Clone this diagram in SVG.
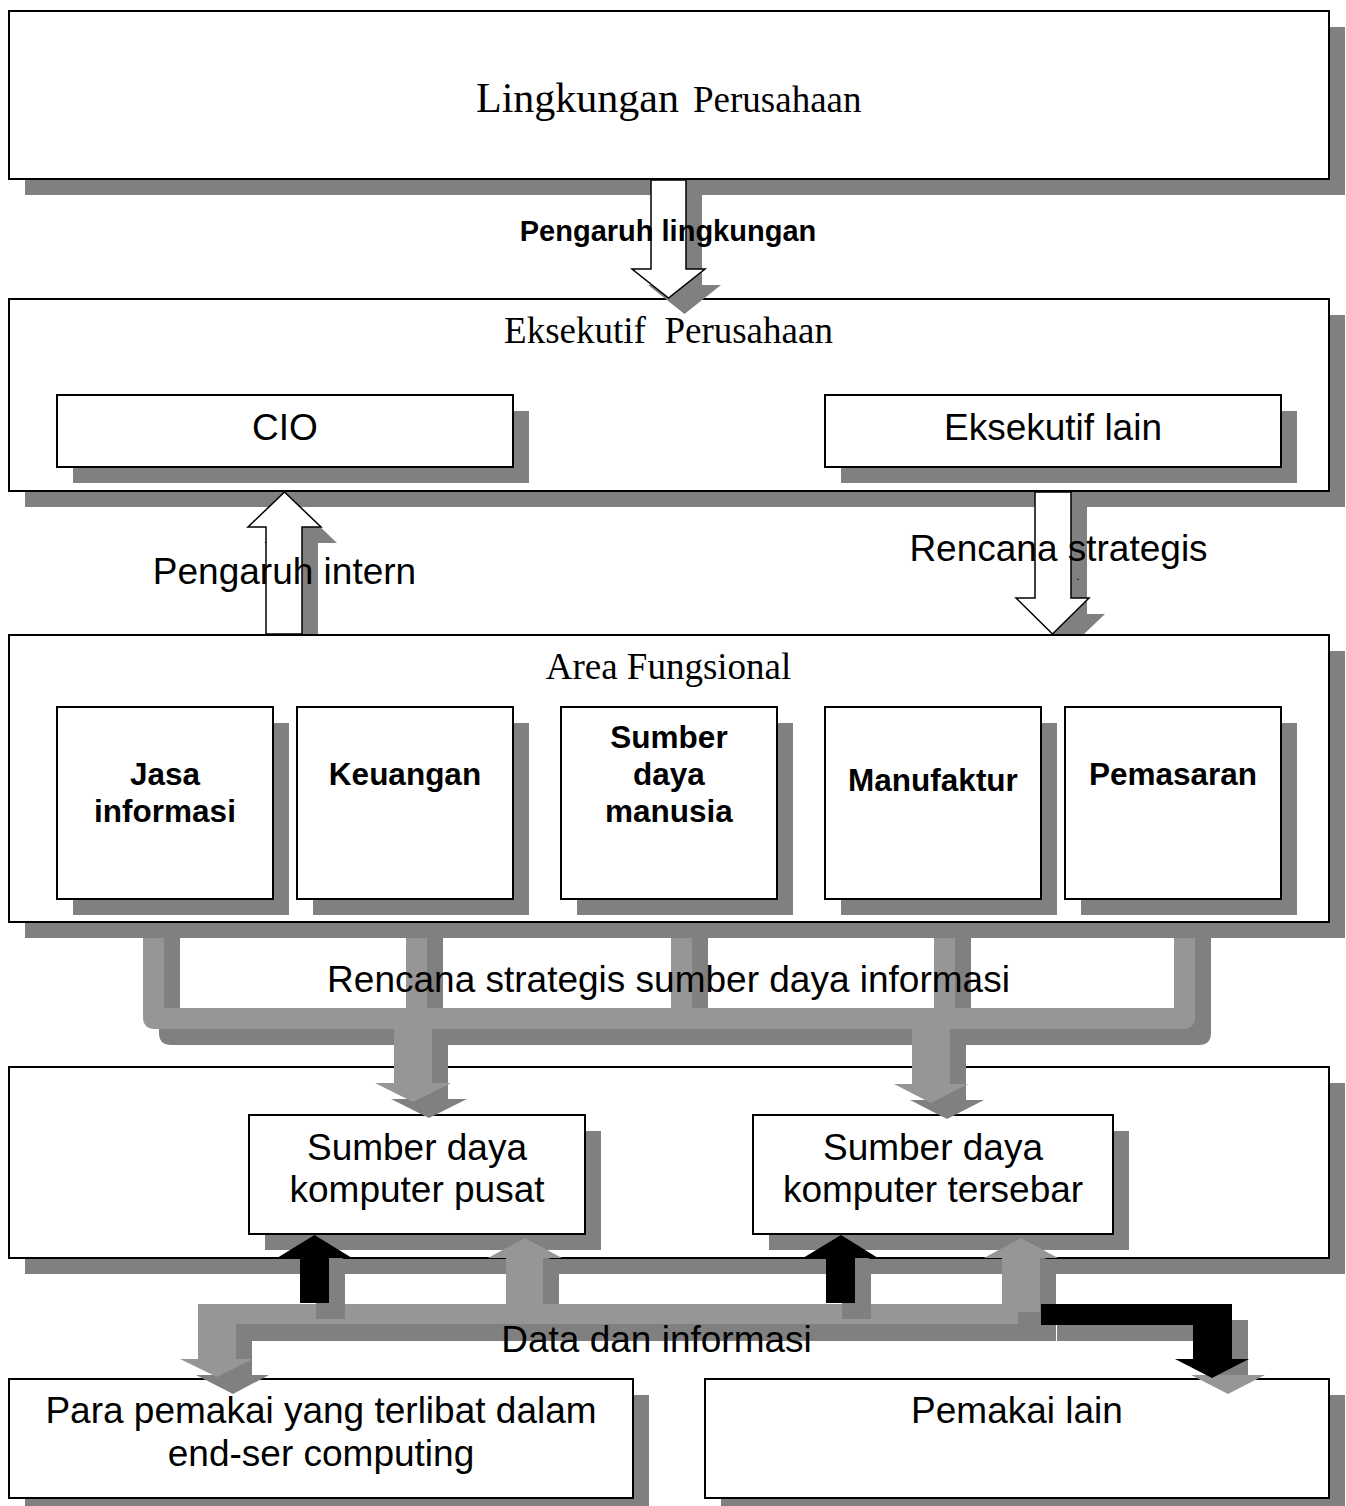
<svg xmlns="http://www.w3.org/2000/svg" width="1346" height="1506" viewBox="0 0 1346 1506">
<style>
.box{fill:#fff;stroke:#000;stroke-width:2}
.sh{fill:#808080}
.lt{fill:#969696}
.bk{fill:#000}
.wa{fill:#fff;stroke:#000;stroke-width:1.5}
text{fill:#000;text-anchor:middle}
.s{font-family:"Liberation Sans",Arial,sans-serif;font-size:37px}
.b{font-family:"Liberation Sans",Arial,sans-serif;font-size:31.5px;font-weight:bold}
.r{font-family:"Liberation Serif","Times New Roman",serif;font-size:37px}
</style>
<rect width="1346" height="1506" fill="#fff"/>
<g id="lingkungan">
<rect class="sh" x="25" y="27" width="1320" height="168"/>
<rect class="box" x="9" y="11" width="1320" height="168"/>
<text class="r" x="476" y="112" style="text-anchor:start"><tspan style="font-size:42px">Lingkungan</tspan><tspan x="693">Perusahaan</tspan></text>
</g>
<g id="eksekutif">
<rect class="sh" x="25" y="315" width="1320" height="192"/>
<rect class="box" x="9" y="299" width="1320" height="192"/>
<text class="r" x="668.5" y="343" xml:space="preserve">Eksekutif  Perusahaan</text>
</g>
<g id="cio">
<rect class="sh" x="73" y="411" width="456" height="72"/>
<rect class="box" x="57" y="395" width="456" height="72"/>
<text class="s" x="285" y="440">CIO</text>
</g>
<g id="eksekutif-lain">
<rect class="sh" x="841" y="411" width="456" height="72"/>
<rect class="box" x="825" y="395" width="456" height="72"/>
<text class="s" x="1053" y="440">Eksekutif lain</text>
</g>
<g id="area-fungsional">
<rect class="sh" x="25" y="651" width="1320" height="287"/>
<rect class="box" x="9" y="635" width="1320" height="287"/>
<text class="r" x="668.5" y="679">Area Fungsional</text>
</g>
<g id="jasa-informasi">
<rect class="sh" x="73" y="723" width="216" height="192"/>
<rect class="box" x="57" y="707" width="216" height="192"/>
<text class="b" x="165" y="785">Jasa</text>
<text class="b" x="165" y="822">informasi</text>
</g>
<g id="keuangan">
<rect class="sh" x="313" y="723" width="216" height="192"/>
<rect class="box" x="297" y="707" width="216" height="192"/>
<text class="b" x="405" y="785">Keuangan</text>
</g>
<g id="sdm">
<rect class="sh" x="577" y="723" width="216" height="192"/>
<rect class="box" x="561" y="707" width="216" height="192"/>
<text class="b" x="669" y="748">Sumber</text>
<text class="b" x="669" y="785">daya</text>
<text class="b" x="669" y="822">manusia</text>
</g>
<g id="manufaktur">
<rect class="sh" x="841" y="723" width="216" height="192"/>
<rect class="box" x="825" y="707" width="216" height="192"/>
<text class="b" x="933" y="791">Manufaktur</text>
</g>
<g id="pemasaran">
<rect class="sh" x="1081" y="723" width="216" height="192"/>
<rect class="box" x="1065" y="707" width="216" height="192"/>
<text class="b" x="1173" y="785">Pemasaran</text>
</g>
<g id="sumber-daya-komputer">
<rect class="sh" x="25" y="1083" width="1320" height="191"/>
<rect class="box" x="9" y="1067" width="1320" height="191"/>
</g>
<g id="komputer-pusat">
<rect class="sh" x="265" y="1131" width="336" height="119"/>
<rect class="box" x="249" y="1115" width="336" height="119"/>
<text class="s" x="417" y="1160">Sumber daya</text>
<text class="s" x="417" y="1202">komputer pusat</text>
</g>
<g id="komputer-tersebar">
<rect class="sh" x="769" y="1131" width="360" height="119"/>
<rect class="box" x="753" y="1115" width="360" height="119"/>
<text class="s" x="933" y="1160">Sumber daya</text>
<text class="s" x="933" y="1202">komputer tersebar</text>
</g>
<g id="para-pemakai">
<rect class="sh" x="25" y="1395" width="624" height="119"/>
<rect class="box" x="9" y="1379" width="624" height="119"/>
<text class="s" x="321" y="1423">Para pemakai yang terlibat dalam</text>
<text class="s" x="321" y="1466">end-ser computing</text>
</g>
<g id="pemakai-lain">
<rect class="sh" x="721" y="1395" width="624" height="119"/>
<rect class="box" x="705" y="1379" width="624" height="119"/>
<text class="s" x="1017" y="1423">Pemakai lain</text>
</g>
<g id="connectors">
<!-- Pengaruh lingkungan -->
<path class="sh" d="M667,195 H702 V285 H721 L684.5,314 L648,285 H667 Z"/>
<path class="wa" d="M651,180 H686 V269 H705 L668.5,298 L632,269 H651 Z"/>
<text class="b" style="font-size:29px" x="668" y="241">Pengaruh lingkungan</text>
<!-- Pengaruh intern -->
<path class="sh" d="M282,634 V543 H264 L300.5,508 L337,543 H318 V634 Z"/>
<path class="wa" d="M266,634 V527 H248 L284.5,492 L321,527 H302 V634 Z"/>
<text class="s" x="284.5" y="584">Pengaruh intern</text>
<!-- Rencana strategis -->
<path class="sh" d="M1051,507 H1087 V614 H1105 L1084,634 H1053 L1032,614 H1051 Z"/>
<path class="wa" d="M1035,492 H1071 V598 H1089 L1052.5,634 L1016,598 H1035 Z"/>
<text class="s" x="1058.5" y="561">Rencana strategis</text>
<text class="s" style="font-size:12px" x="1078" y="580">.</text>
<!-- Rencana strategis sumber daya informasi -->
<path class="sh" d="M159,938 V1033 Q159,1045 171,1045 H1199 Q1211,1045 1211,1033 V938 H1190 V1024 H180 V938 Z"/>
<rect class="sh" x="422" y="938" width="21" height="86"/>
<rect class="sh" x="687" y="938" width="21" height="86"/>
<rect class="sh" x="950" y="938" width="21" height="86"/>
<path class="lt" d="M143,938 V1017 Q143,1029 155,1029 H1183 Q1195,1029 1195,1017 V938 H1174 V1008 H164 V938 Z"/>
<rect class="lt" x="406" y="938" width="21" height="72"/>
<rect class="lt" x="671" y="938" width="21" height="72"/>
<rect class="lt" x="934" y="938" width="21" height="72"/>
<path class="sh" d="M410,1045 H448 V1099 H467 L429,1118 L391,1099 H410 Z"/>
<path class="lt" d="M394,1020 H432 V1083 H451 L413,1102 L375,1083 H394 Z"/>
<path class="sh" d="M928,1045 H966 V1100 H984 L947,1119 L910,1100 H928 Z"/>
<path class="lt" d="M912,1020 H950 V1084 H968 L931,1103 L894,1084 H912 Z"/>
<text class="s" x="668.5" y="992">Rencana strategis sumber daya informasi</text>
<!-- Data dan informasi -->
<path class="sh" d="M214,1320 H252 V1375 H269 L233,1394 L196,1375 H214 Z"/>
<rect class="sh" x="214" y="1320" width="842" height="21"/>
<path class="sh" d="M522,1330 V1274 H504 L541,1254 L578,1274 H559 V1330 Z"/>
<path class="sh" d="M1018,1328 V1274 H1000 L1037,1254 L1074,1274 H1056 V1328 Z"/>
<path class="lt" d="M198,1304 H236 V1359 H253 L217,1377 L180,1359 H198 Z"/>
<rect class="lt" x="198" y="1304" width="820" height="20"/>
<path class="lt" d="M506,1324 V1258 H488 L525,1238 L562,1258 H543 V1324 Z"/>
<path class="lt" d="M1002,1312 V1258 H984 L1021,1238 L1058,1258 H1040 V1312 Z"/>
<path class="sh" d="M316,1319 V1274 H293 L330.5,1251 L368,1274 H345 V1319 Z"/>
<path class="sh" d="M842,1319 V1274 H819 L857,1251 L894,1274 H871 V1319 Z"/>
<path class="sh" d="M1057,1320 H1248 V1375 H1209 V1341 H1057 Z"/>
<path class="lt" d="M1191,1375 H1265 L1228,1394 Z"/>
<path class="bk" d="M300,1303 V1258 H277 L314.5,1235 L352,1258 H329 V1303 Z"/>
<path class="bk" d="M826,1303 V1258 H803 L841,1235 L878,1258 H855 V1303 Z"/>
<path class="bk" d="M1041,1304 H1232 V1359 H1249 L1212,1378 L1175,1359 H1193 V1325 H1041 Z"/>
<text class="s" x="656.5" y="1352">Data dan informasi</text>
</g>
</svg>
